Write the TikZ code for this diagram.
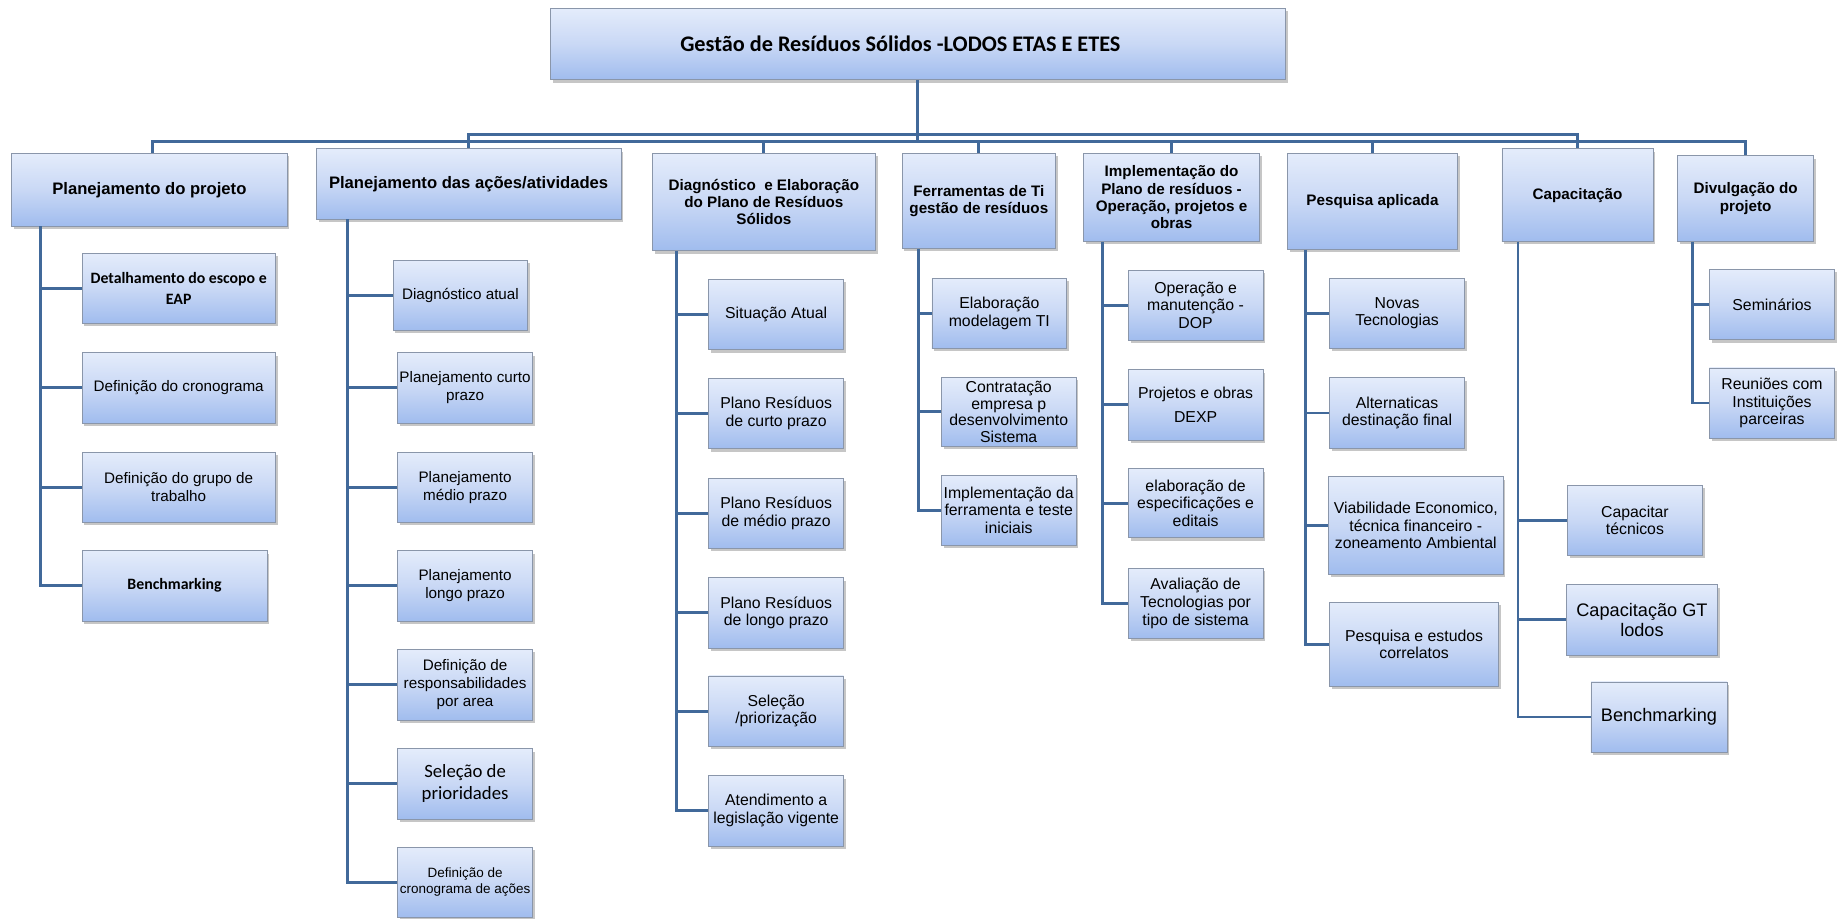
\documentclass[tikz,border=0pt]{standalone}
\usepackage{fontspec}
\setmainfont{Liberation Sans}
\newfontfamily\calfont{Carlito}
\usepackage{tikz}
\usetikzlibrary{
  positioning,
  calc,
  shadows
}
\definecolor{boxTop}{HTML}{E4ECFB}
\definecolor{boxMid}{HTML}{C9D8F5}
\definecolor{boxBottom}{HTML}{A0BCEE}
\definecolor{boxEdge}{HTML}{8A96AA}
\definecolor{linkBlue}{HTML}{41699A}
\tikzstyle{box}=[draw=boxEdge, line width=0.6pt, top color=boxTop, bottom color=boxBottom, middle color=boxMid,
  drop shadow={opacity=0.45, shadow xshift=2pt, shadow yshift=-2.5pt},
  align=center, inner sep=1pt, font=\fontsize{13.5}{15}\selectfont]
\tikzstyle{head}=[box, font=\bfseries\fontsize{13}{14.8}\selectfont]
\tikzstyle{bighead}=[box, font=\bfseries\fontsize{14.2}{16}\selectfont]
\tikzstyle{leaf}=[box, minimum width=115, minimum height=60]
\tikzstyle{small}=[font=\fontsize{13}{15.5}\selectfont]
\tikzstyle{link}=[draw=linkBlue, line width=2.5pt]

\begin{document}
\begin{tikzpicture}[x=1pt, y=-1pt]
  \useasboundingbox (0,0) rectangle (1568,784);

  % 題名
  \node[box, minimum width=627, minimum height=61, font=\calfont\bfseries\fontsize{19}{22}\selectfont]
    (T) at (783.5,37.5) {Gestão de Resíduos Sólidos -LODOS ETAS E ETES\hspace*{30pt}};

  % 第1階層
  \node[bighead, minimum width=235, minimum height=62] (G1) at (127.5,162) {Planejamento do projeto};
  \node[bighead, minimum width=260, minimum height=60] (G2) at (400,157) {Planejamento das ações/atividades};
  \node[head, minimum width=190, minimum height=83] (G3) at (652,172.5) {Diagnóstico\ \ e Elaboração\\do Plano de Resíduos\\Sólidos};
  \node[head, minimum width=131, minimum height=81] (G4) at (835.5,171.5) {Ferramentas de Ti\\gestão de resíduos};
  \node[head, minimum width=150, minimum height=75] (G5) at (1000,168.5) {Implementação do\\Plano de resíduos -\\Operação, projetos e\\obras};
  \node[head, minimum width=145, minimum height=82] (G6) at (1171.5,172) {Pesquisa aplicada};
  \node[head, minimum width=129, minimum height=79] (G7) at (1346.5,166.5) {Capacitação};
  \node[head, minimum width=116, minimum height=73] (G8) at (1490,169.5) {Divulgação do\\projeto};

  % 幹線
  \coordinate (BusA) at (783.5,115);
  \coordinate (BusB) at (783.5,121);
  \draw[link] (T.south) -- (BusB);
  \draw[link] (BusA) -| (G2.north) (BusA) -| (G7.north);
  \draw[link] (BusB) -| ([xshift=3]G1.north) (BusB) -| (G3.north) (BusB) -| (G4.north)
              (BusB) -| (G5.north) (BusB) -| (G6.north) (BusB) -| (G8.north);

  % 第2階層: 計画
  \node[leaf, minimum width=165, font=\calfont\bfseries\fontsize{13.5}{18}\selectfont] (G1a) at (152.5,246) {Detalhamento do escopo e\\EAP};
  \node[leaf, small, minimum width=165] (G1b) at (152.5,331) {Definição do cronograma};
  \node[leaf, small, minimum width=165] (G1c) at (152.5,416) {Definição do grupo de\\trabalho};
  \node[leaf, minimum width=158, font=\calfont\bfseries\fontsize{13.5}{16}\selectfont] (G1d) at (149,500) {Benchmarking};

  % 第2階層: 行動
  \node[leaf, small] (G2a) at (393,252) {Diagnóstico atual};
  \node[leaf, small] (G2b) at (397,331) {Planejamento curto\\prazo};
  \node[leaf, small] (G2c) at (397,416) {Planejamento\\médio prazo};
  \node[leaf, small] (G2d) at (397,500) {Planejamento\\longo prazo};
  \node[leaf, small, minimum height=61] (G2e) at (397,584.5) {Definição de\\responsabilidades\\por area};
  \node[leaf, font=\calfont\fontsize{16}{19}\selectfont] (G2f) at (397,669) {Seleção de\\prioridades};
  \node[leaf, font=\fontsize{11.5}{14}\selectfont] (G2g) at (397,753) {Definição de\\cronograma de ações};

  % 第2階層: 診断
  \node[leaf] (G3a) at (662.5,268.5) {Situação Atual};
  \node[leaf] (G3b) at (662.5,353) {Plano Resíduos\\de curto prazo};
  \node[leaf] (G3c) at (662.5,438) {Plano Resíduos\\de médio prazo};
  \node[leaf] (G3d) at (662.5,523) {Plano Resíduos\\de longo prazo};
  \node[leaf] (G3e) at (662.5,607) {Seleção\\/priorização};
  \node[leaf] (G3f) at (662.5,692) {Atendimento a\\legislação vigente};

  % 第2階層: TI
  \node[leaf] (G4a) at (853,267.5) {Elaboração\\modelagem TI};
  \node[leaf, minimum height=59, font=\fontsize{13.5}{14.3}\selectfont] (G4b) at (861,351.5) {Contratação\\empresa p\\desenvolvimento\\Sistema};
  \node[leaf] (G4c) at (861,435.5) {Implementação da\\ferramenta e teste\\iniciais};

  % 第2階層: 実施
  \node[leaf] (G5a) at (1020.5,260.5) {Operação e\\manutenção -\\DOP};
  \node[leaf] (G5b) at (1020.5,345.5) {Projetos e obras\\[5pt]DEXP};
  \node[leaf, minimum height=59] (G5c) at (1020.5,429.5) {elaboração de\\especificações e\\editais};
  \node[leaf] (G5d) at (1020.5,515) {Avaliação de\\Tecnologias por\\tipo de sistema};

  % 第2階層: 研究
  \node[leaf] (G6a) at (1192.5,267.5) {Novas\\Tecnologias};
  \node[leaf] (G6b) at (1192.5,352.5) {Alternaticas\\destinação final};
  \node[leaf, minimum width=149, minimum height=83] (G6c) at (1208.5,448.5) {Viabilidade Economico,\\técnica financeiro -\\zoneamento Ambiental};
  \node[leaf, minimum width=144, minimum height=72] (G6d) at (1207,550) {Pesquisa e estudos\\correlatos};

  % 第2階層: 研修
  \node[leaf] (G7a) at (1395.5,444) {Capacitar\\técnicos};
  \node[leaf, minimum width=129, font=\fontsize{15.5}{17}\selectfont] (G7b) at (1401.5,529) {Capacitação GT\\lodos};
  \node[leaf, minimum width=116, font=\fontsize{15.5}{17}\selectfont] (G7c) at (1416,612) {Benchmarking};

  % 第2階層: 広報
  \node[leaf, minimum width=107] (G8a) at (1512.5,260) {Seminários};
  \node[leaf, minimum width=107] (G8b) at (1512.5,344) {Reuniões com\\Instituições\\parceiras};

  % 縦の接続線
  \coordinate (V1) at ([xshift=25]G1.south west);
  \coordinate (V2) at ([xshift=27]G2.south west);
  \coordinate (V3) at ([xshift=21]G3.south west);
  \coordinate (V4) at ([xshift=14]G4.south west);
  \coordinate (V5) at ([xshift=16]G5.south west);
  \coordinate (V6) at ([xshift=16]G6.south west);
  \coordinate (V7) at ([xshift=14]G7.south west);
  \coordinate (V8) at ([xshift=13]G8.south west);

  \draw[link] (V1) |- (G1a.west) (V1) |- (G1b.west) (V1) |- (G1c.west) (V1) |- (G1d.west);
  \draw[link] (V2) |- (G2a.west) (V2) |- (G2b.west) (V2) |- (G2c.west) (V2) |- (G2d.west)
              (V2) |- (G2e.west) (V2) |- (G2f.west) (V2) |- (G2g.west);
  \draw[link] (V3) |- (G3a.west) (V3) |- (G3b.west) (V3) |- (G3c.west) (V3) |- (G3d.west)
              (V3) |- (G3e.west) (V3) |- (G3f.west);
  \draw[link] (V4) |- (G4a.west) (V4) |- (G4b.west) (V4) |- (G4c.west);
  \draw[link] (V5) |- (G5a.west) (V5) |- (G5b.west) (V5) |- (G5c.west) (V5) |- (G5d.west);
  \draw[link] (V6) |- (G6a.west) (V6) |- (G6b.west) (V6) |- (G6c.west) (V6) |- (G6d.west);
  \draw[link] (V7) |- (G7a.west) (V7) |- (G7b.west) (V7) |- (G7c.west);
  \draw[link] (V8) |- (G8a.west) (V8) |- (G8b.west);
\end{tikzpicture}
\end{document}
